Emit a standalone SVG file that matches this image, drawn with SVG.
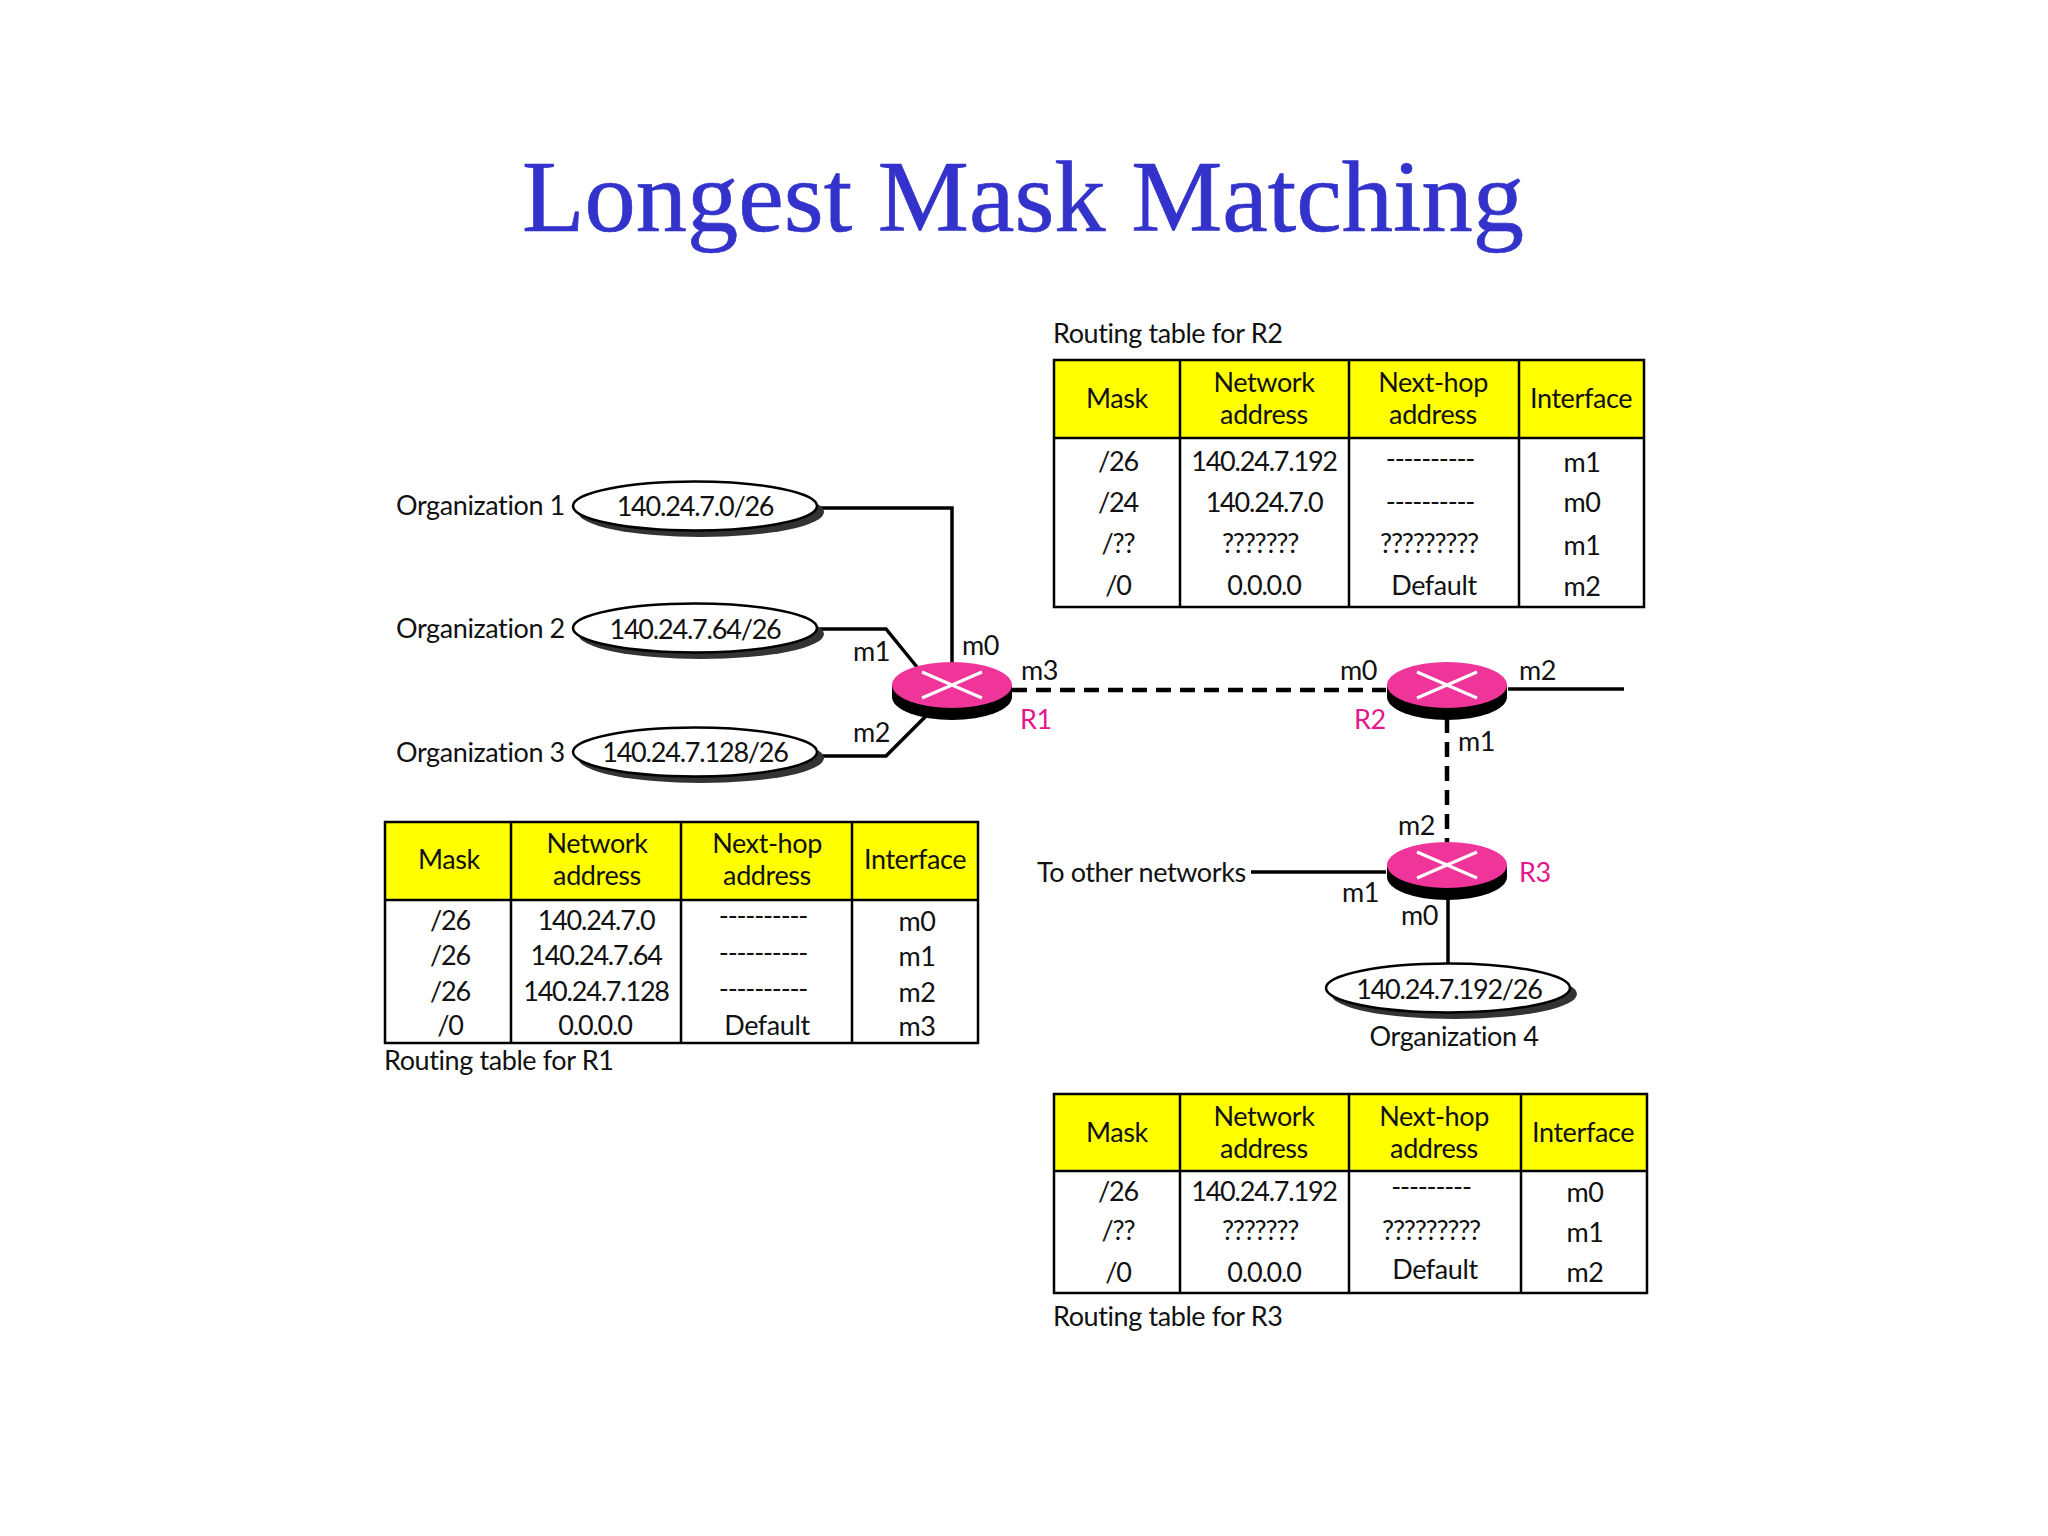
<svg xmlns="http://www.w3.org/2000/svg" width="2048" height="1536" viewBox="0 0 2048 1536">
<style>
text{font-family:"Lato","Open Sans","Liberation Sans",sans-serif;font-size:27px;letter-spacing:-.4px;fill:#111}
.m{text-anchor:middle}
.n{letter-spacing:-1.2px}
.title{font-family:"Liberation Serif",serif;font-size:102.500px;letter-spacing:0;fill:#3333cc;stroke:#3333cc;stroke-width:.7;text-anchor:middle}
.r{fill:#e6168c}
.c{fill:none;stroke:#000;stroke-width:3.500}
.d{fill:none;stroke:#000;stroke-width:4.500;stroke-dasharray:15 9}
.g{fill:none;stroke:#000;stroke-width:2.500}
.hd{fill:#ffff00}
.sh{fill:#333;stroke:none}
.el{fill:#fff;stroke:#000;stroke-width:2.500}
.rb{fill:#000}
.rt{fill:#f0359a}
.x{stroke:#fff;stroke-width:3;fill:none}
</style>
<defs>
<g id="router">
<path class="rb" d="M-60 0V12A60 23 0 0 0 60 12V0Z"/>
<ellipse class="rt" rx="60" ry="23"/>
<path class="x" d="M-30 -13L30 13M-30 13L30 -13"/>
</g>
<g id="cloud">
<ellipse class="sh" cx="6" cy="6" rx="123" ry="25"/>
<ellipse class="el" rx="122" ry="24.500"/>
</g>
</defs>
<text id="title" class="title" x="1023" y="231">Longest Mask Matching</text>

<g id="connectors">
<path class="c" d="M817 508H952V665"/>
<path class="c" d="M817 629H886L917 667"/>
<path class="c" d="M817 756H886L926 716"/>
<path class="d" d="M1012 690H1386"/>
<path class="c" d="M1508 689H1624"/>
<path class="d" d="M1447 718V845"/>
<path class="c" d="M1251 872H1386"/>
<path class="c" d="M1448 898V965"/>
</g>

<g id="org1"><use href="#cloud" x="695" y="506"/><text class="m n" x="695" y="516">140.24.7.0/26</text><text x="396" y="515">Organization 1</text></g>
<g id="org2"><use href="#cloud" x="695" y="628"/><text class="m n" x="695" y="639">140.24.7.64/26</text><text x="396" y="638">Organization 2</text></g>
<g id="org3"><use href="#cloud" x="695" y="752"/><text class="m n" x="695" y="762">140.24.7.128/26</text><text x="396" y="762">Organization 3</text></g>
<g id="org4"><use href="#cloud" x="1448" y="988"/><text class="m n" x="1449" y="999">140.24.7.192/26</text><text class="m" x="1454" y="1046">Organization 4</text></g>

<g id="r1"><use href="#router" x="952" y="685"/><text class="r" x="1020" y="729">R1</text>
<text x="962" y="655">m0</text><text x="853" y="661">m1</text><text x="853" y="742">m2</text><text x="1021" y="680">m3</text></g>
<g id="r2"><use href="#router" x="1447" y="685"/><text class="r" x="1354" y="729">R2</text>
<text x="1340" y="680">m0</text><text x="1458" y="751">m1</text><text x="1519" y="680">m2</text></g>
<g id="r3"><use href="#router" x="1447" y="865"/><text class="r" x="1519" y="882">R3</text>
<text x="1398" y="835">m2</text><text x="1342" y="902">m1</text><text x="1401" y="925">m0</text></g>
<text id="other" x="1037" y="882">To other networks</text>

<g id="table-r2">
<text x="1053" y="343">Routing table for R2</text>
<rect class="hd" x="1054" y="360" width="590" height="78"/>
<path class="g" d="M1054 360H1644V607H1054ZM1054 438H1644M1180 360V607M1349 360V607M1519 360V607"/>
<text class="m" x="1117" y="408">Mask</text><text class="m" x="1264" y="392">Network</text><text class="m" x="1264" y="424">address</text><text class="m" x="1433" y="392">Next-hop</text><text class="m" x="1433" y="424">address</text><text class="m" x="1581" y="408">Interface</text>
<text class="m n" x="1118" y="471">/26</text><text class="m n" x="1264" y="471">140.24.7.192</text><text class="m n" x="1430" y="468">----------</text><text class="m" x="1582" y="472">m1</text>
<text class="m n" x="1118" y="512">/24</text><text class="m n" x="1264" y="512">140.24.7.0</text><text class="m n" x="1430" y="511">----------</text><text class="m" x="1582" y="512">m0</text>
<text class="m n" x="1118" y="553">/??</text><text class="m n" x="1260" y="553">???????</text><text class="m n" x="1429" y="553">?????????</text><text class="m" x="1582" y="555">m1</text>
<text class="m n" x="1118" y="595">/0</text><text class="m n" x="1264" y="595">0.0.0.0</text><text class="m" x="1434" y="595">Default</text><text class="m" x="1582" y="596">m2</text>
</g>

<g id="table-r1">
<rect class="hd" x="385" y="822" width="593" height="78"/>
<path class="g" d="M385 822H978V1043H385ZM385 900H978M511 822V1043M681 822V1043M852 822V1043"/>
<text class="m" x="449" y="869">Mask</text><text class="m" x="597" y="853">Network</text><text class="m" x="597" y="885">address</text><text class="m" x="767" y="853">Next-hop</text><text class="m" x="767" y="885">address</text><text class="m" x="915" y="869">Interface</text>
<text class="m n" x="450" y="930">/26</text><text class="m n" x="596" y="930">140.24.7.0</text><text class="m n" x="763" y="925">----------</text><text class="m" x="917" y="931">m0</text>
<text class="m n" x="450" y="965">/26</text><text class="m n" x="596" y="965">140.24.7.64</text><text class="m n" x="763" y="962">----------</text><text class="m" x="917" y="966">m1</text>
<text class="m n" x="450" y="1001">/26</text><text class="m n" x="596" y="1001">140.24.7.128</text><text class="m n" x="763" y="998">----------</text><text class="m" x="917" y="1002">m2</text>
<text class="m n" x="450" y="1035">/0</text><text class="m n" x="595" y="1035">0.0.0.0</text><text class="m" x="767" y="1035">Default</text><text class="m" x="917" y="1036">m3</text>
<text x="384" y="1070">Routing table for R1</text>
</g>

<g id="table-r3">
<rect class="hd" x="1054" y="1094" width="593" height="77"/>
<path class="g" d="M1054 1094H1647V1293H1054ZM1054 1171H1647M1180 1094V1293M1349 1094V1293M1521 1094V1293"/>
<text class="m" x="1117" y="1142">Mask</text><text class="m" x="1264" y="1126">Network</text><text class="m" x="1264" y="1158">address</text><text class="m" x="1434" y="1126">Next-hop</text><text class="m" x="1434" y="1158">address</text><text class="m" x="1583" y="1142">Interface</text>
<text class="m n" x="1118" y="1201">/26</text><text class="m n" x="1264" y="1201">140.24.7.192</text><text class="m n" x="1431" y="1196">---------</text><text class="m" x="1585" y="1202">m0</text>
<text class="m n" x="1118" y="1240">/??</text><text class="m n" x="1260" y="1240">???????</text><text class="m n" x="1431" y="1240">?????????</text><text class="m" x="1585" y="1242">m1</text>
<text class="m n" x="1118" y="1282">/0</text><text class="m n" x="1264" y="1282">0.0.0.0</text><text class="m" x="1435" y="1279">Default</text><text class="m" x="1585" y="1282">m2</text>
<text x="1053" y="1326">Routing table for R3</text>
</g>
</svg>
